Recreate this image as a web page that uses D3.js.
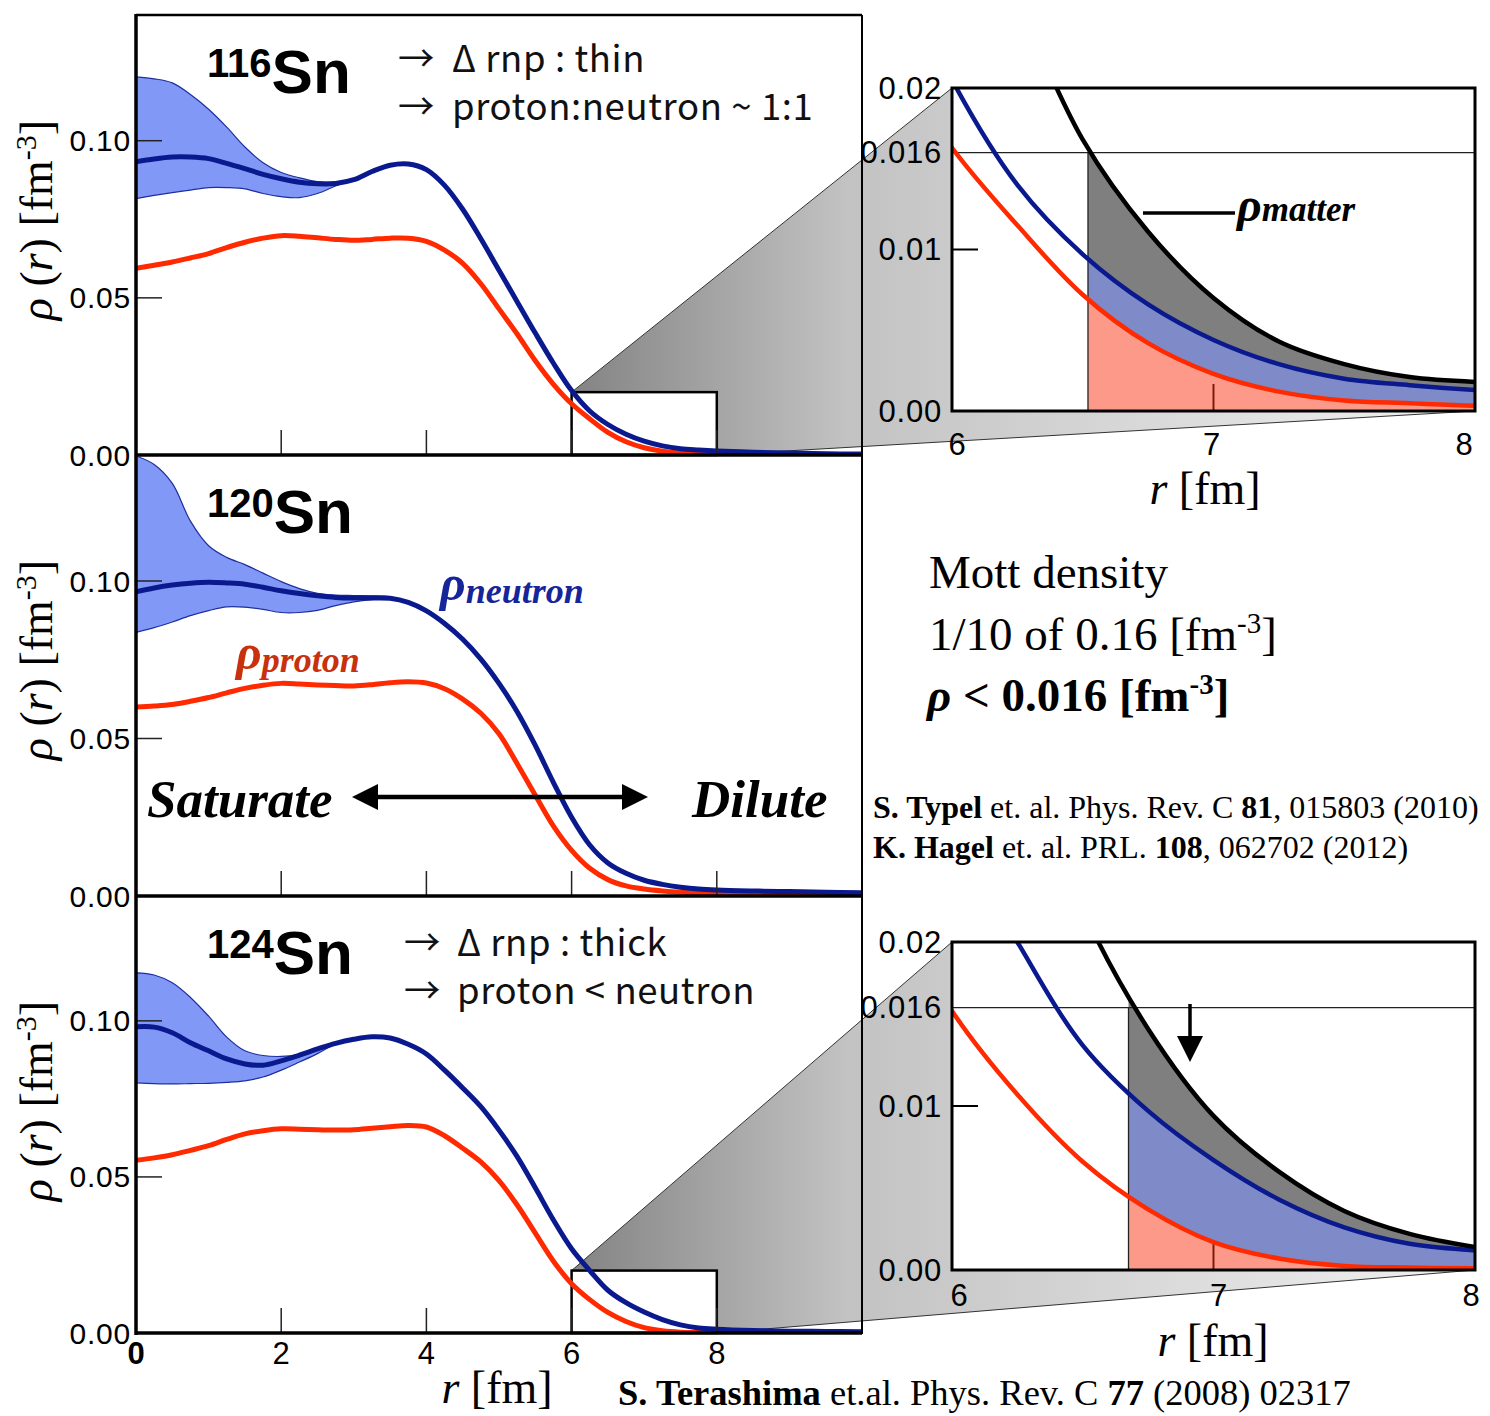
<!DOCTYPE html>
<html>
<head>
<meta charset="utf-8">
<script src="https://cdn.jsdelivr.net/npm/d3@7"></script>
<style>
  body { margin: 0; background: #fff; }
  svg { display: block; }
</style>
</head>
<body>
<div id="chart"></div>
<script>
// radial grid shared by the three Sn density profiles [fm]
const rGrid = [0, 0.25, 0.5, 0.75, 1, 1.25, 1.5, 1.75, 2, 2.25, 2.5, 2.75, 3, 3.25, 3.5, 3.75,
  4, 4.25, 4.5, 4.75, 5, 5.25, 5.5, 5.75, 6, 6.25, 6.5, 6.75, 7, 7.25, 7.5, 7.75, 8, 8.5, 9, 9.5, 10];

// 116Sn
const neutron116 = [0.0933, 0.0942, 0.0948, 0.0948, 0.0943, 0.0928, 0.0911, 0.0893, 0.0879, 0.0868, 0.0863, 0.0864, 0.0876, 0.0902, 0.0922, 0.0926,
  0.0908, 0.0858, 0.0782, 0.0688, 0.0588, 0.0488, 0.0388, 0.0292, 0.0205, 0.0140, 0.0097, 0.0066, 0.0044, 0.0029, 0.0020, 0.0016, 0.0013, 0.0009, 0.0006, 0.0004, 0.0003];
const proton116 = [0.0594, 0.0604, 0.0614, 0.0627, 0.0641, 0.0660, 0.0677, 0.0690, 0.0698, 0.0696, 0.0691, 0.0686, 0.0683, 0.0686, 0.0690, 0.0690,
  0.0680, 0.0652, 0.0610, 0.0545, 0.0465, 0.0385, 0.0300, 0.0225, 0.0163, 0.0115, 0.0072, 0.0042, 0.0023, 0.0012, 0.00065, 0.00048, 0.00033, 0.0002, 0.00015, 0.0001, 0.0001];
const rBand116 = [0, 0.25, 0.5, 0.75, 1, 1.25, 1.5, 1.75, 2, 2.25, 2.5, 2.75, 3];
const bandUp116 = [0.1203, 0.1197, 0.1184, 0.1147, 0.1100, 0.1043, 0.0980, 0.0930, 0.0899, 0.0882, 0.0870, 0.0868, 0.0876];
const bandLo116 = [0.0816, 0.0826, 0.0835, 0.0843, 0.0851, 0.0851, 0.0847, 0.0832, 0.0822, 0.0819, 0.0832, 0.0856, 0.0876];

// 120Sn
const neutron120 = [0.0966, 0.0978, 0.0987, 0.0993, 0.0996, 0.0994, 0.0990, 0.0980, 0.0969, 0.0960, 0.0953, 0.0948, 0.0946, 0.0946, 0.0945, 0.0932,
  0.0905, 0.0865, 0.0815, 0.0752, 0.0675, 0.0585, 0.0478, 0.0360, 0.0250, 0.0162, 0.0105, 0.0072, 0.0050, 0.0037, 0.0028, 0.0022, 0.0019, 0.0016, 0.0014, 0.0012, 0.0010];
const proton120 = [0.0600, 0.0603, 0.0608, 0.0618, 0.0630, 0.0645, 0.0659, 0.0669, 0.0675, 0.0673, 0.0670, 0.0668, 0.0667, 0.0671, 0.0677, 0.0680,
  0.0676, 0.0658, 0.0625, 0.0580, 0.0515, 0.0420, 0.0320, 0.0222, 0.0145, 0.0088, 0.0052, 0.0032, 0.0022, 0.0016, 0.0012, 0.0010, 0.0008, 0.0006, 0.0005, 0.0004, 0.0004];
const rBand120 = [0, 0.25, 0.5, 0.75, 1, 1.25, 1.5, 1.75, 2, 2.25, 2.5, 2.75, 3, 3.25, 3.5, 3.75];
const bandUp120 = [0.1397, 0.1370, 0.1310, 0.1190, 0.1112, 0.1075, 0.1052, 0.1025, 0.0998, 0.0976, 0.0961, 0.0955, 0.0954, 0.0953, 0.0950, 0.0935];
const bandLo120 = [0.0837, 0.0852, 0.0870, 0.0890, 0.0906, 0.0918, 0.0917, 0.0910, 0.0900, 0.0900, 0.0907, 0.0922, 0.0934, 0.0941, 0.0944, 0.0930];

// 124Sn
const neutron124 = [0.0981, 0.0980, 0.0962, 0.0930, 0.0904, 0.0878, 0.0862, 0.0858, 0.0872, 0.0890, 0.0910, 0.0928, 0.0941, 0.0949, 0.0945, 0.0925,
  0.0894, 0.0842, 0.0785, 0.0725, 0.0650, 0.0565, 0.0465, 0.0362, 0.0270, 0.0200, 0.0137, 0.0097, 0.0067, 0.0043, 0.0026, 0.0016, 0.0012, 0.0008, 0.0006, 0.0005, 0.0004];
const proton124 = [0.0553, 0.0561, 0.0571, 0.0585, 0.0600, 0.0620, 0.0638, 0.0648, 0.0654, 0.0653, 0.0651, 0.0650, 0.0651, 0.0656, 0.0661, 0.0665,
  0.0660, 0.0632, 0.0592, 0.0548, 0.0488, 0.0410, 0.0320, 0.0230, 0.0158, 0.0107, 0.0066, 0.0037, 0.0017, 0.0007, 0.00025, 0.00015, 0.0001, 0.0001, 0.0001, 0.0001, 0.0001];
const rBand124 = [0, 0.25, 0.5, 0.75, 1, 1.25, 1.5, 1.75, 2, 2.25, 2.5, 2.75];
const bandUp124 = [0.1154, 0.1147, 0.1122, 0.1075, 0.1015, 0.0948, 0.0904, 0.0889, 0.0886, 0.0892, 0.0906, 0.0928];
const bandLo124 = [0.0801, 0.0799, 0.0798, 0.0799, 0.0800, 0.0803, 0.0808, 0.0820, 0.0842, 0.0868, 0.0895, 0.0928];

// matter density in the surface (insets)
const rTail = [6.25, 6.5, 6.75, 7, 7.25, 7.5, 7.75, 8];
const matter116 = [0.0255, 0.0168, 0.0111, 0.0070, 0.0043, 0.0029, 0.0021, 0.0018];
const matter124 = [0.0330, 0.0220, 0.0147, 0.0094, 0.0060, 0.0036, 0.0022, 0.0014];

// Mott density and where the matter density falls below it
const mottDensity = 0.016;
const mott116 = 6.52;
const mott124 = 6.675;

// ticks
const yTicks = [0.05, 0.10];
const yTickLabels = ["0.00", "0.05", "0.10"];
const xTicks = [2, 4, 6, 8];
const xTickLabels = ["0", "2", "4", "6", "8"];
const insetYTicks = [0.02, 0.016, 0.01, 0.00];
const insetYTickLabels = ["0.02", "0.016", "0.01", "0.00"];
const insetXTicks = [6, 7, 8];

const W = 1490, H = 1416;
const svg = d3.select("#chart").append("svg")
  .attr("width", W).attr("height", H)
  .style("font-family", "'Liberation Sans', Arial, sans-serif");
const defs = svg.append("defs");

const neutronColor = "#0a1a8e";
const protonColor = "#ff2a00";
const serif = "'Liberation Serif', 'Times New Roman', serif";
const jpSans = "'Noto Sans CJK JP', 'Noto Sans', sans-serif";
const smooth = d3.curveCatmullRom.alpha(0.5);

const x = d3.scaleLinear([0, 10], [136, 862]);

const panels = [
  { key: "116", top: 15, bottom: 455, neutron: neutron116, proton: proton116, rBand: rBand116, up: bandUp116, lo: bandLo116 },
  { key: "120", top: 455, bottom: 896, neutron: neutron120, proton: proton120, rBand: rBand120, up: bandUp120, lo: bandLo120 },
  { key: "124", top: 896, bottom: 1333, neutron: neutron124, proton: proton124, rBand: rBand124, up: bandUp124, lo: bandLo124 },
];
panels.forEach(p => {
  p.y = d3.scaleLinear([0, 0.14], [p.bottom, p.top]);
  defs.append("clipPath").attr("id", "clip-" + p.key).append("rect")
    .attr("x", x(0)).attr("y", p.top).attr("width", x(10) - x(0)).attr("height", p.bottom - p.top);
});

const insets = [
  { panel: 0, left: 952, right: 1475, top: 88, bottom: 411, matter: matter116, mott: mott116, labelY: 455, titleX: 1205, titleY: 504, dx: [5, -2, -11] },
  { panel: 2, left: 952, right: 1475, top: 942, bottom: 1270, matter: matter124, mott: mott124, labelY: 1306, titleX: 1213, titleY: 1356, dx: [7, 5, -4] },
];

// gradient for the zoom wedge
const grad = defs.append("linearGradient").attr("id", "wedge")
  .attr("gradientUnits", "userSpaceOnUse")
  .attr("x1", 575).attr("y1", 0).attr("x2", 1475).attr("y2", 0);
grad.append("stop").attr("offset", 0).attr("stop-color", "#848484");
grad.append("stop").attr("offset", 0.3).attr("stop-color", "#c2c2c2");
grad.append("stop").attr("offset", 0.8).attr("stop-color", "#e4e4e4");
grad.append("stop").attr("offset", 1).attr("stop-color", "#f2f2f2");

// zoom wedges + boxes in the main panels
insets.forEach(ins => {
  const p = panels[ins.panel];
  const bx0 = x(6), bx1 = x(8), by0 = p.y(0.02), by1 = p.y(0);
  svg.append("path")
    .attr("d", `M${bx0},${by0}L${ins.left},${ins.top}L${ins.right},${ins.bottom}L${bx1},${by1}Z`)
    .attr("fill", "url(#wedge)");
  svg.append("line").attr("x1", bx0).attr("y1", by0).attr("x2", ins.left).attr("y2", ins.top)
    .attr("stroke", "#333").attr("stroke-width", 1);
  svg.append("line").attr("x1", bx1).attr("y1", by1).attr("x2", ins.right).attr("y2", ins.bottom)
    .attr("stroke", "#333").attr("stroke-width", 1);
  svg.append("rect").attr("x", bx0).attr("y", by0).attr("width", bx1 - bx0).attr("height", by1 - by0)
    .attr("fill", "#fff").attr("stroke", "#000").attr("stroke-width", 2.5);
});

// main panels
panels.forEach(p => {
  const g = svg.append("g");
  const plot = g.append("g").attr("clip-path", `url(#clip-${p.key})`);

  const band = d3.area()
    .x((d, i) => x(p.rBand[i]))
    .y0((d, i) => p.y(p.lo[i]))
    .y1((d, i) => p.y(p.up[i]))
    .curve(smooth);
  plot.append("path").datum(p.rBand).attr("d", band)
    .attr("fill", "#8198f7").attr("stroke", "#1d2fa0").attr("stroke-width", 1.2);

  const line = vals => d3.line()
    .x((d, i) => x(rGrid[i]))
    .y((d, i) => p.y(vals[i]))
    .curve(smooth)(rGrid);
  plot.append("path").attr("d", line(p.proton)).attr("fill", "none")
    .attr("stroke", protonColor).attr("stroke-width", 5);
  plot.append("path").attr("d", line(p.neutron)).attr("fill", "none")
    .attr("stroke", neutronColor).attr("stroke-width", 5);

  // ticks
  g.selectAll(".yt").data(yTicks).join("line")
    .attr("x1", x(0)).attr("x2", x(0) + 26)
    .attr("y1", d => p.y(d)).attr("y2", d => p.y(d))
    .attr("stroke", "#222").attr("stroke-width", 1.5);
  g.selectAll(".xt").data(xTicks).join("line")
    .attr("x1", d => x(d)).attr("x2", d => x(d))
    .attr("y1", p.bottom).attr("y2", p.bottom - 25)
    .attr("stroke", "#222").attr("stroke-width", 1.5);

  g.selectAll(".yl").data([0].concat(yTicks)).join("text")
    .attr("x", 131).attr("y", d => p.y(d))
    .attr("text-anchor", "end").attr("dominant-baseline", "central")
    .attr("font-size", 30).attr("letter-spacing", 0.8)
    .text((d, i) => yTickLabels[i]);

  // y title
  const yt = g.append("text")
    .attr("transform", `translate(52,${p.top + 205}) rotate(-90)`)
    .attr("text-anchor", "middle")
    .attr("font-family", serif).attr("font-size", 46);
  yt.append("tspan").attr("font-style", "italic").text("ρ");
  yt.append("tspan").text(" (");
  yt.append("tspan").attr("font-style", "italic").text("r");
  yt.append("tspan").text(") [fm");
  yt.append("tspan").attr("font-size", 30).attr("dy", -16).text("-3");
  yt.append("tspan").attr("dy", 16).text("]");

  // nucleus label
  const nl = g.append("text").attr("x", 207).attr("y", p.top + 78).attr("font-weight", "bold");
  nl.append("tspan").attr("font-size", 40).attr("dy", -16).text(p.key);
  nl.append("tspan").attr("font-size", 62).attr("dy", 16).text("Sn");
});

// main frame
const frame = svg.append("g").attr("stroke", "#000");
frame.append("line").attr("x1", 136).attr("x2", 862).attr("y1", 15).attr("y2", 15).attr("stroke-width", 2.5);
frame.append("line").attr("x1", 862).attr("x2", 862).attr("y1", 15).attr("y2", 1334).attr("stroke-width", 2);
panels.forEach(p => {
  frame.append("line").attr("x1", 136).attr("x2", 862).attr("y1", p.bottom).attr("y2", p.bottom).attr("stroke-width", 3.5);
});
frame.append("line").attr("x1", 136).attr("x2", 136).attr("y1", 14).attr("y2", 1335).attr("stroke-width", 3.5);

// bottom x tick labels
svg.selectAll(".xl").data([0].concat(xTicks)).join("text")
  .attr("x", d => x(d)).attr("y", 1364)
  .attr("text-anchor", "middle").attr("font-size", 31)
  .attr("font-weight", (d, i) => i === 0 ? "bold" : "normal")
  .text((d, i) => xTickLabels[i]);

const rLabel = (xPos, yPos) => {
  const t = svg.append("text").attr("x", xPos).attr("y", yPos)
    .attr("text-anchor", "middle").attr("font-family", serif).attr("font-size", 46);
  t.append("tspan").attr("font-style", "italic").text("r");
  t.append("tspan").text(" [fm]");
};
rLabel(497, 1403);

// insets
insets.forEach((ins, k) => {
  const p = panels[ins.panel];
  const xi = d3.scaleLinear([6, 8], [ins.left, ins.right]);
  const yi = d3.scaleLinear([0, 0.02], [ins.bottom, ins.top]);
  const g = svg.append("g");

  defs.append("clipPath").attr("id", "clip-inset-" + k).append("rect")
    .attr("x", ins.left).attr("y", ins.top).attr("width", ins.right - ins.left).attr("height", ins.bottom - ins.top);
  defs.append("clipPath").attr("id", "clip-fill-" + k).append("rect")
    .attr("x", xi(ins.mott)).attr("y", ins.top).attr("width", ins.right - xi(ins.mott)).attr("height", ins.bottom - ins.top);

  g.append("rect").attr("x", ins.left).attr("y", ins.top)
    .attr("width", ins.right - ins.left).attr("height", ins.bottom - ins.top).attr("fill", "#fff");

  // ticks (under the translucent fills)
  g.append("line").attr("x1", ins.left).attr("x2", ins.left + 26)
    .attr("y1", yi(0.01)).attr("y2", yi(0.01)).attr("stroke", "#000").attr("stroke-width", 2);
  g.append("line").attr("x1", xi(7)).attr("x2", xi(7))
    .attr("y1", ins.bottom).attr("y2", ins.bottom - 27).attr("stroke", "#000").attr("stroke-width", 2);

  const fills = g.append("g").attr("clip-path", `url(#clip-fill-${k})`);
  const redArea = d3.area().x((d, i) => xi(rGrid[i])).y0(yi(0)).y1((d, i) => yi(p.proton[i])).curve(smooth);
  const blueArea = d3.area().x((d, i) => xi(rGrid[i])).y0((d, i) => yi(p.proton[i])).y1((d, i) => yi(p.neutron[i])).curve(smooth);
  const tail = rTail.map((r, i) => ({ r, n: p.neutron[rGrid.indexOf(r)], m: ins.matter[i] }));
  const grayArea = d3.area().x(d => xi(d.r)).y0(d => yi(d.n)).y1(d => yi(d.m)).curve(smooth);
  fills.append("path").datum(rGrid).attr("d", redArea).attr("fill", "rgba(250,52,18,0.5)");
  fills.append("path").datum(rGrid).attr("d", blueArea).attr("fill", "rgba(0,23,145,0.5)");
  fills.append("path").datum(tail).attr("d", grayArea).attr("fill", "rgba(0,0,0,0.5)");

  const curves = g.append("g").attr("clip-path", `url(#clip-inset-${k})`);
  curves.append("line").attr("x1", ins.left).attr("x2", ins.right)
    .attr("y1", yi(mottDensity)).attr("y2", yi(mottDensity)).attr("stroke", "#222").attr("stroke-width", 1.3);
  curves.append("line").attr("x1", xi(ins.mott)).attr("x2", xi(ins.mott))
    .attr("y1", yi(mottDensity)).attr("y2", yi(0)).attr("stroke", "#222").attr("stroke-width", 1.3);
  const lineI = vals => d3.line().x((d, i) => xi(rGrid[i])).y((d, i) => yi(vals[i])).curve(smooth)(rGrid);
  curves.append("path").attr("d", lineI(p.proton)).attr("fill", "none").attr("stroke", protonColor).attr("stroke-width", 4.5);
  curves.append("path").attr("d", lineI(p.neutron)).attr("fill", "none").attr("stroke", neutronColor).attr("stroke-width", 4.5);
  curves.append("path").datum(tail)
    .attr("d", d3.line().x(d => xi(d.r)).y(d => yi(d.m)).curve(smooth))
    .attr("fill", "none").attr("stroke", "#000").attr("stroke-width", 4.5);

  g.append("rect").attr("x", ins.left).attr("y", ins.top)
    .attr("width", ins.right - ins.left).attr("height", ins.bottom - ins.top)
    .attr("fill", "none").attr("stroke", "#000").attr("stroke-width", 3);

  g.selectAll(".iyl").data(insetYTicks).join("text")
    .attr("x", ins.left - 10).attr("y", d => yi(d))
    .attr("text-anchor", "end").attr("dominant-baseline", "central")
    .attr("font-size", 31).attr("letter-spacing", 0.8)
    .text((d, i) => insetYTickLabels[i]);
  g.selectAll(".ixl").data(insetXTicks).join("text")
    .attr("x", (d, i) => xi(d) + ins.dx[i]).attr("y", ins.labelY)
    .attr("text-anchor", "middle").attr("font-size", 31)
    .text(d => d);
  rLabel(ins.titleX, ins.titleY);
});

// rho_matter label in the first inset
svg.append("line").attr("x1", 1143).attr("x2", 1235).attr("y1", 213).attr("y2", 213)
  .attr("stroke", "#000").attr("stroke-width", 3.5);
const rm = svg.append("text").attr("x", 1237).attr("y", 221)
  .attr("font-family", serif).attr("font-weight", "bold").attr("font-style", "italic");
rm.append("tspan").attr("font-size", 48).text("ρ");
rm.append("tspan").attr("font-size", 35).text("matter");

// down arrow in the second inset
svg.append("line").attr("x1", 1190).attr("x2", 1190).attr("y1", 1004).attr("y2", 1040)
  .attr("stroke", "#000").attr("stroke-width", 3.5);
svg.append("path").attr("d", "M1177,1036L1203,1036L1190,1062Z").attr("fill", "#000");

// descriptions of 116Sn and 124Sn (two-line blocks)
const desc = [
  { x: 398, y: 72, gap: 48, lines: ["Δ rnp : thin", "proton:neutron ~ 1:1"], tx: 452 },
  { x: 404, y: 956, gap: 48, lines: ["Δ rnp : thick", "proton < neutron"], tx: 457 },
];
desc.forEach(d => {
  const t = svg.append("text").attr("x", d.x).attr("y", d.y)
    .attr("font-family", jpSans).attr("font-size", 36.5).attr("fill", "#111");
  d.lines.forEach((txt, i) => {
    t.append("tspan").attr("x", d.x).attr("y", d.y + i * d.gap).text("→");
    t.append("tspan").attr("x", d.tx).attr("y", d.y + i * d.gap).attr("letter-spacing", 0.6).text(txt);
  });
});

// rho labels in the 120Sn panel
const rn = svg.append("text").attr("x", 440).attr("y", 600)
  .attr("font-family", serif).attr("font-weight", "bold").attr("font-style", "italic").attr("fill", "#16269a");
rn.append("tspan").attr("font-size", 50).text("ρ");
rn.append("tspan").attr("font-size", 36).attr("dy", 3).text("neutron");
const rp = svg.append("text").attr("x", 236).attr("y", 669)
  .attr("font-family", serif).attr("font-weight", "bold").attr("font-style", "italic").attr("fill", "#c8300e");
rp.append("tspan").attr("font-size", 50).text("ρ");
rp.append("tspan").attr("font-size", 36).attr("dy", 3).text("proton");

// Saturate <-> Dilute
svg.append("text").attr("x", 147).attr("y", 817).attr("font-family", serif)
  .attr("font-weight", "bold").attr("font-style", "italic").attr("font-size", 53).text("Saturate");
svg.append("text").attr("x", 692).attr("y", 817).attr("font-family", serif)
  .attr("font-weight", "bold").attr("font-style", "italic").attr("font-size", 53).text("Dilute");
svg.append("line").attr("x1", 370).attr("x2", 630).attr("y1", 797).attr("y2", 797)
  .attr("stroke", "#000").attr("stroke-width", 4.5);
svg.append("path").attr("d", "M352,797L378,784L378,810Z").attr("fill", "#000");
svg.append("path").attr("d", "M648,797L622,784L622,810Z").attr("fill", "#000");

// Mott density text block
const mott = svg.append("g").attr("font-family", serif).attr("font-size", 47);
mott.append("text").attr("x", 929).attr("y", 588).text("Mott density");
const m2 = mott.append("text").attr("x", 929).attr("y", 650);
m2.append("tspan").text("1/10 of 0.16 [fm");
m2.append("tspan").attr("font-size", 29).attr("dy", -17).text("-3");
m2.append("tspan").attr("dy", 17).text("]");
const m3 = mott.append("text").attr("x", 927).attr("y", 711).attr("font-weight", "bold");
m3.append("tspan").attr("font-style", "italic").text("ρ");
m3.append("tspan").text(" < 0.016 [fm");
m3.append("tspan").attr("font-size", 29).attr("dy", -17).text("-3");
m3.append("tspan").attr("dy", 17).text("]");

// references
const refs = [
  { x: 873, y: 818, size: 32, parts: [["S. Typel", true], [" et. al. Phys. Rev. C ", false], ["81", true], [", 015803 (2010)", false]] },
  { x: 873, y: 858, size: 32, parts: [["K. Hagel", true], [" et. al. PRL. ", false], ["108", true], [", 062702 (2012)", false]] },
  { x: 618, y: 1405, size: 36.5, parts: [["S. Terashima", true], [" et.al. Phys. Rev. C ", false], ["77", true], [" (2008) 02317", false]] },
];
refs.forEach(r => {
  const t = svg.append("text").attr("x", r.x).attr("y", r.y)
    .attr("font-family", serif).attr("font-size", r.size);
  r.parts.forEach(([s, b]) => t.append("tspan").attr("font-weight", b ? "bold" : "normal").text(s));
});
</script>
</body>
</html>
